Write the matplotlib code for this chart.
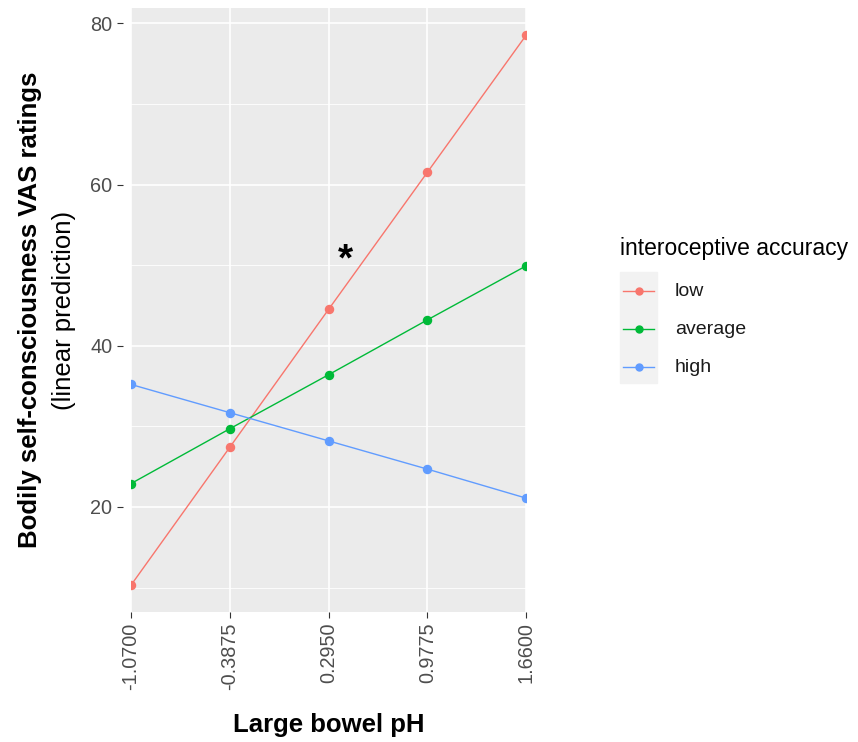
import numpy as np
import matplotlib.pyplot as plt
from matplotlib.lines import Line2D
from matplotlib.patches import Rectangle

plt.rcParams['font.family'] = ['Liberation Sans', 'DejaVu Sans']

# data
ph = [-1.07, -0.3875, 0.295, 0.9775, 1.66]
ph_labels = ['-1.0700', '-0.3875', '0.2950', '0.9775', '1.6600']
groups = ['low', 'average', 'high']
vals = {
    'low':     [10.3, 27.4, 44.5, 61.5, 78.5],
    'average': [22.9, 29.7, 36.4, 43.2, 49.9],
    'high':    [35.2, 31.7, 28.2, 24.7, 21.1],
}
cols = {'low': '#F8766D', 'average': '#00BA38', 'high': '#619CFF'}
star_x, star_y = 0.41, 50.6

fig = plt.figure(figsize=(8.58, 7.42), dpi=100)
ax = fig.add_axes([131/858, 1-612/742, 395/858, 604/742])
ax.set_facecolor('#EBEBEB')

for g in groups:
    ax.plot(ph, vals[g], color=cols[g], lw=1.0, marker='o', ms=5.8, zorder=3)

ax.text(star_x, star_y, '*', fontsize=28, fontweight='bold', ha='center', va='center', zorder=4)

ax.set_xlim(ph[0], ph[-1])
ax.set_ylim(6.97, 81.9)
ax.set_xticks(ph)
ax.set_xticklabels(ph_labels, rotation=90)
ax.set_yticks([20, 40, 60, 80])
ax.set_yticks([10, 30, 50, 70], minor=True)
ax.grid(which='major', color='white', lw=1.2)
ax.grid(which='minor', axis='y', color='white', lw=0.6)
ax.set_axisbelow(True)
for s in ax.spines.values():
    s.set_visible(False)
ax.spines['left'].set_position(('outward', 6))
ax.tick_params(which='major', length=4.5, color='#333333', labelsize=14.3, labelcolor='#4D4D4D', pad=3)
ax.tick_params(which='minor', length=0)

ax.set_xlabel('Large bowel pH', fontsize=18.5, fontweight='bold', labelpad=17)
fig.text(30/858, 1-310/742, 'Bodily self-consciousness VAS ratings', rotation=90,
         fontsize=18.5, fontweight='bold', ha='center', va='center')
fig.text(64/858, 1-310/742, '(linear prediction)', rotation=90,
         fontsize=18.5, ha='center', va='center')

# legend drawn like ggplot
fig.text(620/858, 1-249/742, 'interoceptive accuracy', fontsize=16.5, ha='left', va='center')
key_y = [291, 329, 367]
fig.patches.append(Rectangle((620/858, 1-383/742), 37/858, 111/742,
                             transform=fig.transFigure, color='#F2F2F2', zorder=0))
for g, yy in zip(groups, key_y):
    fig.lines.append(Line2D([623/858, 654/858], [1-yy/742, 1-yy/742], transform=fig.transFigure,
                            color=cols[g], lw=1.0))
    fig.lines.append(Line2D([638.5/858], [1-yy/742], transform=fig.transFigure,
                            color=cols[g], marker='o', ms=5, ls='none'))
    fig.text(675/858, 1-yy/742, g, fontsize=14, ha='left', va='center', color='#1A1A1A')

fig.savefig('out.png', dpi=100)
